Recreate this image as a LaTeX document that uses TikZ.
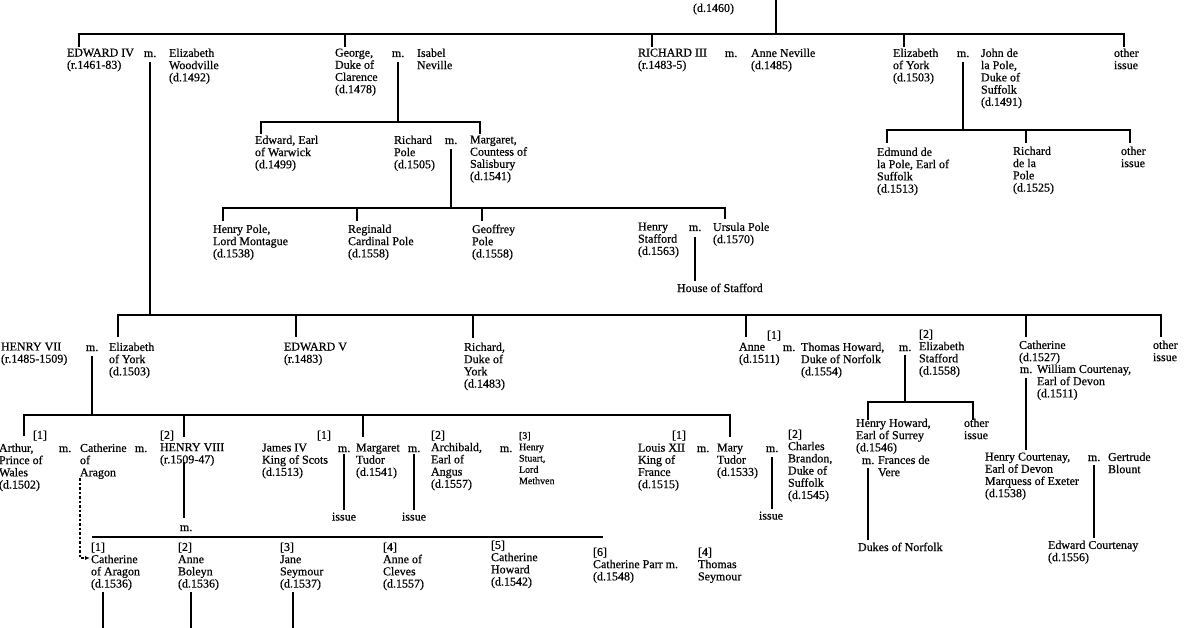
\documentclass[tikz,border=0pt]{standalone}
\usepackage{fontspec}
\setmainfont{Liberation Serif}
\newfontfamily\chartfam{Liberation Serif}[FakeBold=0.5]
\usetikzlibrary{arrows.meta}
\newcommand\chartfont{\chartfam\fontsize{12}{12.2}\selectfont}
\newcommand\chartsmall{\chartfam\fontsize{10}{11.3}\selectfont}
\begin{document}
\begin{tikzpicture}[x=1pt,y=-1pt,
  ln/.style={line width=2pt},
  t/.style={anchor=north west, yshift=8.4pt, inner sep=0pt, outer sep=0pt, align=left, font=\chartfont},
  ts/.style={t, yshift=-1.4pt, font=\chartsmall},
  mm/.style={anchor=base west, inner sep=0pt, outer sep=0pt, font=\chartfont}]
\fill[white] (0,0) rectangle (1196,628);
\useasboundingbox (0,0) rectangle (1196,628);

% ---------- top ----------
\node[t] (d1460) at (693,12) {(d.1460)};
\coordinate (top) at (776,0);
\draw[ln] (top) -- (776,34);
\draw[ln] (79,47) |- (1124,34) -- (1124,47);
\draw[ln] (345,34) -- (345,47);
\draw[ln] (652,34) -- (652,47);
\draw[ln] (904,34) -- (904,47);

% ---------- row 1 ----------
\node[t] (ed4) at (67,57) {EDWARD IV\\(r.1461-83)};
\node[mm] (med4) at (144,57) {m.};
\node[t] (ewood) at (169,57) {Elizabeth\\Woodville\\(d.1492)};
\node[t] (george) at (335,57) {George,\\Duke of\\Clarence\\(d.1478)};
\node[mm] (mgeo) at (392,57) {m.};
\node[t] (isabel) at (417,57) {Isabel\\Neville};
\node[t] (rich3) at (638,57) {RICHARD III\\(r.1483-5)};
\node[mm] (mr3) at (725,57) {m.};
\node[t] (annenev) at (751,57) {Anne Neville\\(d.1485)};
\node[t] (eyork1) at (893,57) {Elizabeth\\of York\\(d.1503)};
\node[mm] (mey) at (957,57) {m.};
\node[t] (john) at (981,57) {John de\\la Pole,\\Duke of\\Suffolk\\(d.1491)};
\node[t] (other1) at (1114,57) {other\\issue};

% ---------- row 2 ----------
\coordinate (bar2) at (0,122);
\draw[ln] (mgeo.south) ++(0,5) -- (mgeo.south |- bar2);
\draw[ln] (261,134) |- (480,122) -- (480,134);
\node[t] (edwarw) at (255,144) {Edward, Earl\\of Warwick\\(d.1499)};
\node[t] (rpole) at (394,144) {Richard\\Pole\\(d.1505)};
\node[mm] (mrp) at (445,144) {m.};
\node[t] (margs) at (470,144) {Margaret,\\Countess of\\Salisbury\\(d.1541)};

\coordinate (bar2b) at (0,130);
\draw[ln] (mey.south) ++(0,5) -- (mey.south |- bar2b);
\draw[ln] (887,143) |- (1130,130) -- (1130,143);
\draw[ln] (1026,130) -- (1026,143);
\node[t] (edmund) at (877,156) {Edmund de\\la Pole, Earl of\\Suffolk\\(d.1513)};
\node[t] (richdlp) at (1013,155) {Richard\\de la\\Pole\\(d.1525)};
\node[t] (other2) at (1121,155) {other\\issue};

% ---------- row 3 ----------
\coordinate (bar3) at (0,208);
\draw[ln] (mrp.south) ++(0,5) -- (mrp.south |- bar3);
\draw[ln] (223,221) |- (725,208) -- (725,219);
\draw[ln] (357,208) -- (357,221);
\draw[ln] (482,208) -- (482,221);
\node[t] (hpole) at (213,233) {Henry Pole,\\Lord Montague\\(d.1538)};
\node[t] (reginald) at (348,233) {Reginald\\Cardinal Pole\\(d.1558)};
\node[t] (geoffrey) at (472,233) {Geoffrey\\Pole\\(d.1558)};
\node[t] (hstaff) at (638,231) {Henry\\Stafford\\(d.1563)};
\node[mm] (mhs) at (689,231) {m.};
\node[t] (ursula) at (713,231) {Ursula Pole\\(d.1570)};
\node[t] (hostaff) at (677,292) {House of Stafford};
\draw[ln] (mhs.south) ++(0,6) -- ([yshift=3pt]hostaff.north -| mhs.south);

% ---------- row 4 ----------
\coordinate (bar4) at (0,315);
\draw[ln] (med4.south) ++(0,5) -- (med4.south |- bar4);
\draw[ln] (118,337) |- (1161,315) -- (1161,337);
\draw[ln] (296,315) -- (296,337);
\draw[ln] (473,315) -- (473,338);
\draw[ln] (746,315) -- (746,337);
\draw[ln] (1026,315) -- (1026,337);

\node[t] (henry7) at (1,351) {HENRY VII\\(r.1485-1509)};
\node[mm] (mh7) at (86,351) {m.};
\node[t] (eyork2) at (109,351) {Elizabeth\\of York\\(d.1503)};
\node[t] (ed5) at (284,351) {EDWARD V\\(r.1483)};
\node[t] (rdy) at (464,351) {Richard,\\Duke of\\York\\(d.1483)};
\node[t] (nanne) at (767,339) {[1]};
\node[t] (anne) at (739,351) {Anne\\(d.1511)};
\node[mm] (man) at (783,351) {m.};
\node[t] (thoward) at (801,351) {Thomas Howard,\\Duke of Norfolk\\(d.1554)};
\node[mm] (mth) at (899,351) {m.};
\node[t] (estaff) at (919,338) {[2]\\Elizabeth\\Stafford\\(d.1558)};
\node[t] (cath) at (1019,349) {Catherine\\(d.1527)};
\node[mm] (mcat) at (1020,373) {m.};
\node[t] (wcourt) at (1037,373) {William Courtenay,\\Earl of Devon\\(d.1511)};
\node[t] (other4) at (1153,349) {other\\issue};

% ---------- row 5 ----------
\coordinate (bar5) at (0,415);
\draw[ln] (mh7.south) ++(0,5) -- (mh7.south |- bar5);
\draw[ln] (24,436) |- (730,415) -- (730,437);
\draw[ln] (184,415) -- (184,437);
\draw[ln] (363,415) -- (363,437);

\node[t] (narth) at (33,439) {[1]};
\node[t] (arthur) at (-1,452) {Arthur,\\Prince of\\Wales\\(d.1502)};
\node[mm] (mar) at (59,452) {m.};
\node[t] (catha) at (80,452) {Catherine\\of\\Aragon};
\node[mm] (mca) at (135,452) {m.};
\node[t] (henry8) at (160,439) {[2]\\HENRY VIII\\(r.1509-47)};
\node[t] (njames) at (317,439) {[1]};
\node[t] (james) at (262,452) {James IV\\King of Scots\\(d.1513)};
\node[mm] (mj) at (338,452) {m.};
\node[t] (issue1) at (332,521) {issue};
\draw[ln] (mj.south) ++(0,2) -- ([yshift=3pt]issue1.north -| mj.south);
\node[t] (margt) at (356,452) {Margaret\\Tudor\\(d.1541)};
\node[mm] (mmt) at (408,452) {m.};
\node[t] (issue2) at (402,521) {issue};
\draw[ln] (mmt.south) ++(0,2) -- ([yshift=3pt]issue2.north -| mmt.south);
\node[t] (archibald) at (431,439) {[2]\\Archibald,\\Earl of\\Angus\\(d.1557)};
\node[mm] (mar2) at (500,452) {m.};
\node[ts] (hstuart) at (519,439) {[3]\\Henry\\Stuart,\\Lord\\Methven};
\node[t] (nlouis) at (672,439) {[1]};
\node[t] (louis) at (638,452) {Louis XII\\King of\\France\\(d.1515)};
\node[mm] (mlo) at (697,452) {m.};
\node[t] (mary) at (717,452) {Mary\\Tudor\\(d.1533)};
\node[mm] (mmy) at (766,452) {m.};
\node[t] (issue3) at (759,520) {issue};
\draw[ln] (mmy.south) ++(0,5) -- ([yshift=3pt]issue3.north -| mmy.south);
\node[t] (charles) at (788,438) {[2]\\Charles\\Brandon,\\Duke of\\Suffolk\\(d.1545)};

% Howard children
\coordinate (barH) at (0,402);
\draw[ln] (mth.south) ++(0,4) -- (mth.south |- barH);
\draw[ln] (868,420) |- (973,402) -- (973,420);
\node[t] (hhoward) at (856,427) {Henry Howard,\\Earl of Surrey\\(d.1546)};
\node[mm] (mhh) at (862,464) {m.};
\node[t] (frances) at (878,464) {Frances de\\Vere};
\node[t] (other5) at (964,427) {other\\issue};
\node[t] (dukes) at (858,551) {Dukes of Norfolk};
\draw[ln] (mhh.south) ++(0,4) -- ([yshift=3pt]dukes.north -| mhh.south);

% Courtenay
\node[t] (hcourt) at (985,461) {Henry Courtenay,\\Earl of Devon\\Marquess of Exeter\\(d.1538)};
\draw[ln] (mcat.south) ++(0,5) -- ([yshift=3pt]hcourt.north -| mcat.south);
\node[mm] (mhc) at (1088,461) {m.};
\node[t] (gertrude) at (1108,461) {Gertrude\\Blount};
\node[t] (ecourt) at (1048,549) {Edward Courtenay\\(d.1556)};
\draw[ln] (mhc.south) ++(0,4) -- ([yshift=3pt]ecourt.north -| mhc.south);

% ---------- Henry VIII wives ----------
\node[mm] (mh8) at (180,531) {m.};
\draw[ln] (184,462) -- (184,518);
\draw[ln] (92,537) -- (603,537);
\node[t] (w1) at (91,551) {[1]\\Catherine\\of Aragon\\(d.1536)};
\node[t] (w2) at (178,551) {[2]\\Anne\\Boleyn\\(d.1536)};
\node[t] (w3) at (280,551) {[3]\\Jane\\Seymour\\(d.1537)};
\node[t] (w4) at (383,551) {[4]\\Anne of\\Cleves\\(d.1557)};
\node[t] (w5) at (491,549) {[5]\\Catherine\\Howard\\(d.1542)};
\node[t] (w6) at (593,556) {[6]\\Catherine Parr m.\\(d.1548)};
\node[t] (tseym) at (698,556) {[4]\\Thomas\\Seymour};
\draw[line width=1.2pt, dash pattern=on 2.5pt off 2pt, -{Latex[length=5pt,width=4pt]}] (80,478) |- (90,558);
\draw[ln] (103,592) -- (103,630);
\draw[ln] (191,592) -- (191,630);
\draw[ln] (293,592) -- (293,630);
\end{tikzpicture}
\end{document}
